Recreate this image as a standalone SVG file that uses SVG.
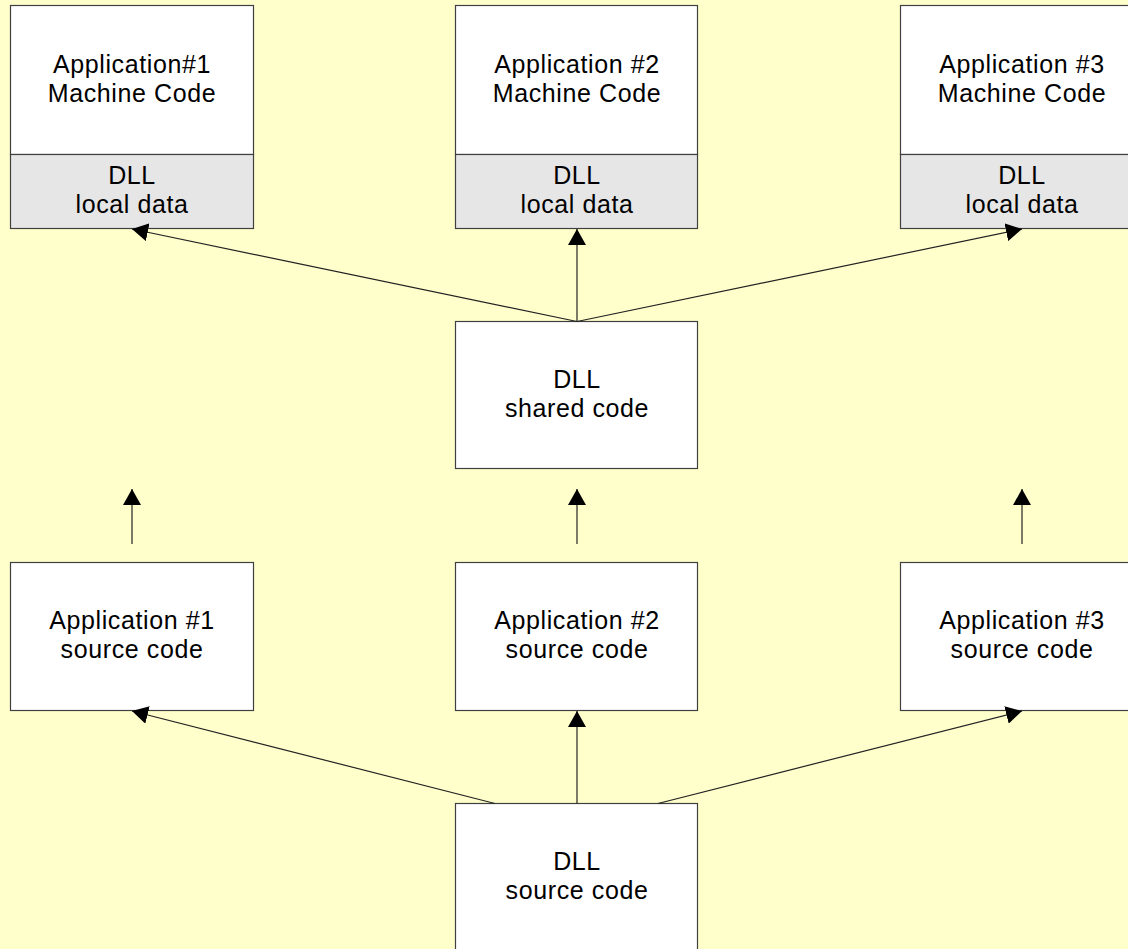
<svg xmlns="http://www.w3.org/2000/svg" width="1128" height="949" viewBox="0 0 1128 949">
<style>
.bg{fill:#FFFFCC}
.box{fill:#FFFFFF;stroke:#404040;stroke-width:1.2}
.data{fill:#E6E6E6;stroke:#404040;stroke-width:1.2}
.t{font-family:"Liberation Sans",Arial,sans-serif;font-size:25px;letter-spacing:0.6px;fill:#000;text-anchor:middle}
.c{stroke:#222;stroke-width:1.2;fill:none;marker-end:url(#ah)}
</style>
<defs>
<marker id="ah" markerUnits="userSpaceOnUse" viewBox="0 -9 16 18" refX="16" refY="0" markerWidth="16" markerHeight="18" orient="auto">
<path d="M0,-9 L16,0 L0,9 z" fill="#000"/>
</marker>
</defs>
<rect class="bg" x="0" y="0" width="1128" height="949"/>

<g id="app1-machine">
<rect class="box" x="10.5" y="5.5" width="243" height="149"/>
<rect class="data" x="10.5" y="154.5" width="243" height="74"/>
<text class="t" x="132" y="72.5">Application#1</text>
<text class="t" x="132" y="101.5">Machine Code</text>
<text class="t" x="132" y="184">DLL</text>
<text class="t" x="132" y="213">local data</text>
</g>
<g id="app2-machine">
<rect class="box" x="455.5" y="5.5" width="242" height="149"/>
<rect class="data" x="455.5" y="154.5" width="242" height="74"/>
<text class="t" x="577" y="72.5">Application #2</text>
<text class="t" x="577" y="101.5">Machine Code</text>
<text class="t" x="577" y="184">DLL</text>
<text class="t" x="577" y="213">local data</text>
</g>
<g id="app3-machine">
<rect class="box" x="900.5" y="5.5" width="243" height="149"/>
<rect class="data" x="900.5" y="154.5" width="243" height="74"/>
<text class="t" x="1022" y="72.5">Application #3</text>
<text class="t" x="1022" y="101.5">Machine Code</text>
<text class="t" x="1022" y="184">DLL</text>
<text class="t" x="1022" y="213">local data</text>
</g>
<g id="dll-shared">
<rect class="box" x="455.5" y="321.5" width="242" height="147"/>
<text class="t" x="577" y="387.5">DLL</text>
<text class="t" x="577" y="416.5">shared code</text>
</g>
<g id="app1-source">
<rect class="box" x="10.5" y="562.5" width="243" height="148"/>
<text class="t" x="132" y="629">Application #1</text>
<text class="t" x="132" y="658">source code</text>
</g>
<g id="app2-source">
<rect class="box" x="455.5" y="562.5" width="242" height="148"/>
<text class="t" x="577" y="629">Application #2</text>
<text class="t" x="577" y="658">source code</text>
</g>
<g id="app3-source">
<rect class="box" x="900.5" y="562.5" width="243" height="148"/>
<text class="t" x="1022" y="629">Application #3</text>
<text class="t" x="1022" y="658">source code</text>
</g>
<g id="dll-source">
<rect class="box" x="455.5" y="803.5" width="242" height="160"/>
<text class="t" x="577" y="870">DLL</text>
<text class="t" x="577" y="899">source code</text>
</g>

<g id="connectors">
<line class="c" x1="577" y1="321.5" x2="132" y2="229"/>
<line class="c" x1="577" y1="321.5" x2="577" y2="229"/>
<line class="c" x1="577" y1="321.5" x2="1022" y2="229"/>
<line class="c" x1="132" y1="544" x2="132" y2="489"/>
<line class="c" x1="577" y1="544" x2="577" y2="489"/>
<line class="c" x1="1022" y1="544" x2="1022" y2="489"/>
<line class="c" x1="495" y1="803.5" x2="132" y2="711"/>
<line class="c" x1="577" y1="803.5" x2="577" y2="711"/>
<line class="c" x1="658" y1="803.5" x2="1022" y2="711"/>
</g>
</svg>
